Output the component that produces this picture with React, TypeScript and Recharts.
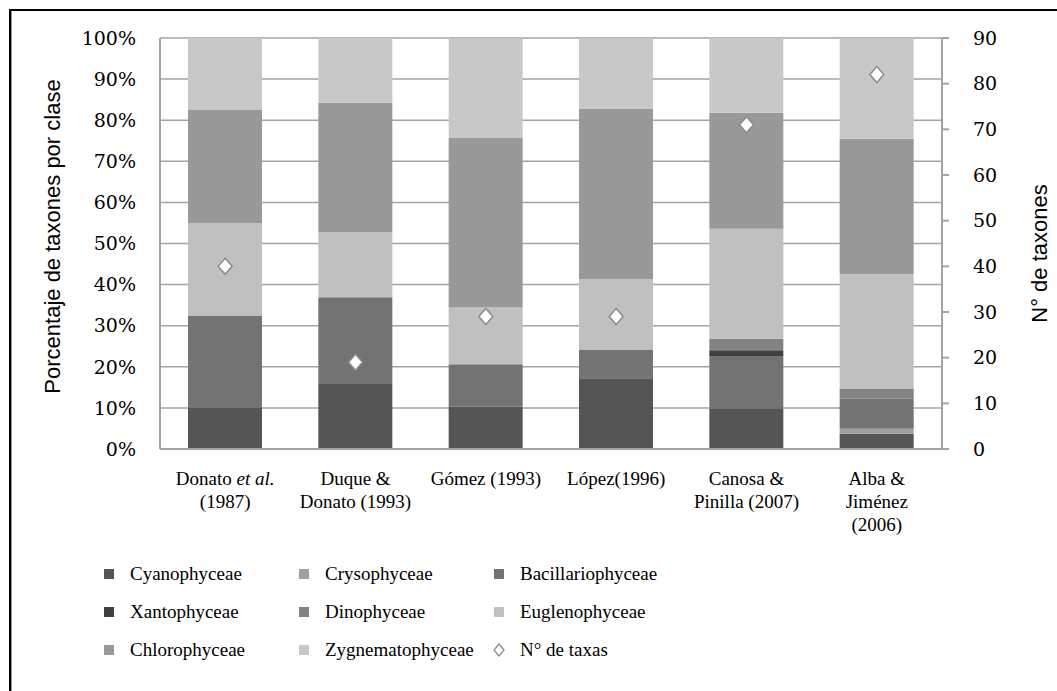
import React from 'react';
import { ComposedChart, Bar, Line, XAxis, YAxis, CartesianGrid, Label } from 'recharts';

const categories = [
  'Donato et al. (1987)',
  'Duque & Donato (1993)',
  'Gómez (1993)',
  'López(1996)',
  'Canosa & Pinilla (2007)',
  'Alba & Jiménez (2006)',
];

// how each category label wraps under the axis
const tickLines = [
  ['Donato et al.', '(1987)'],
  ['Duque &', 'Donato (1993)'],
  ['Gómez (1993)'],
  ['López(1996)'],
  ['Canosa &', 'Pinilla (2007)'],
  ['Alba &', 'Jiménez', '(2006)'],
];

// % of taxa per class
const cyanophyceae = [10, 15.8, 10.3, 17.2, 9.9, 3.7];
const crysophyceae = [0, 0, 0, 0, 0, 1.2];
const bacillariophyceae = [22.5, 21.1, 10.3, 6.9, 12.7, 7.3];
const xantophyceae = [0, 0, 0, 0, 1.4, 0];
const dinophyceae = [0, 0, 0, 0, 2.8, 2.4];
const euglenophyceae = [22.5, 15.8, 13.8, 17.2, 26.8, 28.0];
const chlorophyceae = [27.5, 31.6, 41.4, 41.4, 28.2, 32.9];
const zygnematophyceae = [17.5, 15.8, 24.1, 17.2, 18.3, 24.4];

// number of taxa (right axis)
const taxa = [40, 19, 29, 29, 71, 82];

const leftTicks = [0, 10, 20, 30, 40, 50, 60, 70, 80, 90, 100];
const rightTicks = [0, 10, 20, 30, 40, 50, 60, 70, 80, 90];

const series = [
  { name: 'Cyanophyceae', values: cyanophyceae, color: '#555555' },
  { name: 'Crysophyceae', values: crysophyceae, color: '#a0a0a0' },
  { name: 'Bacillariophyceae', values: bacillariophyceae, color: '#737373' },
  { name: 'Xantophyceae', values: xantophyceae, color: '#404040' },
  { name: 'Dinophyceae', values: dinophyceae, color: '#828282' },
  { name: 'Euglenophyceae', values: euglenophyceae, color: '#c0c0c0' },
  { name: 'Chlorophyceae', values: chlorophyceae, color: '#999999' },
  { name: 'Zygnematophyceae', values: zygnematophyceae, color: '#c8c8c8' },
];

const data = categories.map((name, i) => {
  const row: Record<string, any> = { name, taxa: taxa[i] };
  series.forEach((s) => {
    row[s.name] = s.values[i];
  });
  return row;
});

const SERIF = '"DejaVu Serif", serif';
const LEG_SERIF = '"Liberation Serif", serif';
const SANS = '"Liberation Sans", Arial, sans-serif';
const AXIS_GRAY = '#a3a3a3';

const CategoryTick = (props: any) => {
  const { x, y, payload } = props;
  const lines = tickLines[payload.index] || [payload.value];
  return (
    <g>
      {lines.map((line: string, k: number) => {
        const parts = line.split('et al.');
        return (
          <text
            key={k}
            x={x}
            y={y + 28 + k * 23}
            textAnchor="middle"
            fontFamily={LEG_SERIF}
            fontSize={19}
            fill="#000"
          >
            {parts.length > 1 ? (
              <>
                <tspan>{parts[0]}</tspan>
                <tspan fontStyle="italic">et al.</tspan>
              </>
            ) : (
              line
            )}
          </text>
        );
      })}
    </g>
  );
};

const Diamond = (props: any) => {
  const { cx, cy, index } = props;
  if (cx == null || cy == null) return <g key={`d-${index}`} />;
  const r = 8;
  return (
    <polygon
      key={`d-${index}`}
      points={`${cx},${cy - r} ${cx + r - 1},${cy} ${cx},${cy + r} ${cx - r + 1},${cy}`}
      fill="#ffffff"
      stroke="#8c8c8c"
      strokeWidth={1.5}
    />
  );
};

const legendItems = [
  'Cyanophyceae', 'Crysophyceae', 'Bacillariophyceae',
  'Xantophyceae', 'Dinophyceae', 'Euglenophyceae',
  'Chlorophyceae', 'Zygnematophyceae', 'N° de taxas',
];

export default function App() {
  return (
    <div style={{ position: 'absolute', left: 0, top: 0, width: 1057, height: 691, background: '#fff', overflow: 'hidden' }}>
      {/* frame of the original figure */}
      <div style={{ position: 'absolute', left: 9, top: 9, width: 1100, height: 800, borderTop: '2px solid #000', borderLeft: '2px solid #000' }} />
      <div style={{ position: 'absolute', left: 11, top: 11, width: 1100, height: 800, borderLeft: '1px solid #9a9a9a' }} />

      <div style={{ position: 'absolute', left: 0, top: 0 }}>
        <ComposedChart
          width={1057}
          height={691}
          data={data}
          margin={{ top: 38, right: 15, bottom: 142, left: 60 }}
          barSize={74}
        >
          <CartesianGrid yAxisId="left" vertical={false} stroke={AXIS_GRAY} strokeWidth={1.5} />
          <XAxis
            dataKey="name"
            height={100}
            interval={0}
            tick={<CategoryTick />}
            tickLine={false}
            axisLine={{ stroke: AXIS_GRAY, strokeWidth: 2 }}
          />
          <YAxis
            yAxisId="left"
            width={100}
            domain={[0, 100]}
            ticks={leftTicks}
            allowDataOverflow
            tickFormatter={(v: number) => `${v}%`}
            tickLine={false}
            tickSize={0}
            tickMargin={24}
            axisLine={{ stroke: AXIS_GRAY, strokeWidth: 2 }}
            tick={{ fontFamily: SERIF, fontSize: 19, fill: '#000' }}
          >
            <Label
              value="Porcentaje de taxones por clase"
              angle={-90}
              position="center"
              dx={-58}
              dy={-7}
              style={{ fontFamily: SANS, fontSize: 22, fill: '#000', textAnchor: 'middle' }}
            />
          </YAxis>
          <YAxis
            yAxisId="right"
            orientation="right"
            width={100}
            domain={[0, 90]}
            ticks={rightTicks}
            allowDataOverflow
            tickSize={7}
            tickMargin={24}
            tickLine={{ stroke: AXIS_GRAY, strokeWidth: 2 }}
            axisLine={{ stroke: AXIS_GRAY, strokeWidth: 2 }}
            tick={{ fontFamily: SERIF, fontSize: 19, fill: '#000' }}
          >
            <Label
              value="N° de taxones"
              angle={-90}
              position="center"
              dx={47}
              dy={10}
              style={{ fontFamily: SANS, fontSize: 22, fill: '#000', textAnchor: 'middle' }}
            />
          </YAxis>
          {series.map((s) => (
            <Bar
              key={s.name}
              yAxisId="left"
              dataKey={s.name}
              stackId="clases"
              fill={s.color}
              isAnimationActive={false}
            />
          ))}
          <Line
            yAxisId="right"
            dataKey="taxa"
            stroke="none"
            dot={(p: any) => <Diamond key={`d-${p.index}`} {...p} />}
            activeDot={false}
            isAnimationActive={false}
          />
        </ComposedChart>
      </div>

      {/* legend, three columns, filled row by row */}
      <div
        style={{
          position: 'absolute',
          left: 102,
          top: 559,
          display: 'grid',
          gridTemplateColumns: '195px 195px 220px',
          rowGap: 8,
          fontFamily: LEG_SERIF,
          fontSize: 19,
          color: '#000',
        }}
      >
        {legendItems.map((name) => {
          const s = series.find((x) => x.name === name);
          return (
            <div key={name} style={{ display: 'flex', alignItems: 'center', height: 30 }}>
              {s ? (
                <span style={{ display: 'inline-block', width: 10, height: 10, background: s.color, marginRight: 16, marginLeft: 2 }} />
              ) : (
                <svg width={14} height={14} style={{ marginRight: 14 }}>
                  <polygon points="7,1 12,7 7,13 2,7" fill="#fff" stroke="#8c8c8c" strokeWidth={1.3} />
                </svg>
              )}
              <span>{name}</span>
            </div>
          );
        })}
      </div>
    </div>
  );
}
